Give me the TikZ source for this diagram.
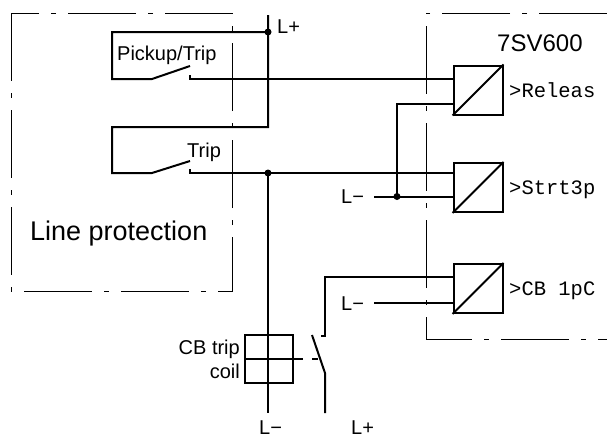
\documentclass[tikz,border=0pt]{standalone}
\usepackage{fontspec}
\setmainfont{Liberation Sans}
\setmonofont{Liberation Mono}
\begin{document}
\begin{tikzpicture}[x=1pt,y=-1pt,
  wire/.style={line width=2pt},
  frame/.style={line width=1pt, dash pattern=on 68pt off 12pt on 5pt off 12pt},
  relay/.style={draw, line width=2pt, minimum width=49pt, minimum height=49pt, inner sep=0pt},
  coilbox/.style={draw, line width=2pt, minimum width=48pt, minimum height=48pt, inner sep=0pt},
  lbl/.style={font=\fontsize{20}{22}\selectfont, inner sep=0pt},
  llbl/.style={font=\fontsize{20}{22}\selectfont, inner sep=0pt, anchor=base west},
  sig/.style={font=\ttfamily\fontsize{20.5}{22}\selectfont, inner sep=0pt, anchor=base west},
  dot/.style={circle, fill, inner sep=0pt, minimum size=7pt}]
\useasboundingbox (0,0) rectangle (607,439);

% frames
\draw[frame] (11,13) rectangle (232,291);
\draw[frame] (607,13) -- (426,13) -- (426,339) -- (607,339);

% relays
\node[relay] (rel1) at (478,90) {};
\node[relay] (rel2) at (478,187.5) {};
\node[relay] (rel3) at (478,288.5) {};
\foreach \r in {rel1,rel2,rel3} \draw[wire] (\r.south west) -- (\r.north east);

% coil
\node[coilbox] (coil) at (269,359) {};

% coordinates
\coordinate (lptop) at (268,15);
\coordinate (lpA) at (268,32);
\coordinate (lpB) at (268,127);
\coordinate (jT) at (268,173);
\coordinate (coilbot) at (268,413);
\coordinate (jL) at (397,196.5);
\coordinate (r1a) at (rel1.west |- 0,79);
\coordinate (r1b) at (rel1.west |- 0,104);
\coordinate (r2a) at (rel2.west |- 0,173);
\coordinate (r2b) at (rel2.west |- 0,196.5);
\coordinate (r3a) at (rel3.west |- 0,277);
\coordinate (r3b) at (rel3.west |- 0,303);
\coordinate (lm1) at (374,196.5);
\coordinate (lm2) at (374,303);

% L+ bus and contacts
\draw[wire] (lptop) -- (lpB) -- (112,127) -- (112,173) -- (152,173) -- (190,161);
\draw[wire] (lpA) -- (112,32) -- (112,79) -- (152,79) -- (190,66);
\draw[wire] (190,75) -- (190,79) -- (r1a);
\draw[wire] (190,169) -- (190,173) -- (r2a);
\draw[wire] (r1b) -- (397,104) -- (jL);
\draw[wire] (lm1) -- (r2b);
\draw[wire] (lm2) -- (r3b);
\draw[wire] (jT) -- (coilbot);
\draw[wire] (coil.west) -- (303,359);
\draw[wire] (312,359) -- (318,359);
% aux contact
\draw[wire] (325,413) -- (325,373) -- (312,335);
\draw[wire] (321,336) -- (325,336) -- (325,277) -- (r3a);

\node[dot] (d1) at (lpA) {};
\node[dot] (d2) at (jT) {};
\node[dot] (d3) at (jL) {};

% labels
\node[llbl] (lplus) at (277,33.5) {L+};
\node[llbl] (lmin1) at (341,203.5) {L−};
\node[llbl] (lmin2) at (341,310) {L−};
\node[llbl] (lmin3) at (259,434.5) {L−};
\node[llbl] (lplus2) at (351,434.5) {L+};
\node[lbl, anchor=base west] (pt) at (117,60) {Pickup/Trip};
\node[lbl, anchor=base west] (tr) at (187,157) {Trip};
\node[lbl, anchor=base east] (cbt) at (240,354) {CB trip};
\node[lbl, anchor=base east] (cbc) at (240,378) {coil};
\node[inner sep=0pt, anchor=base west, font=\fontsize{27}{30}\selectfont] (lp) at (30,240) {Line protection};
\node[inner sep=0pt, anchor=base west, font=\fontsize{24}{26}\selectfont] (dev) at (497,51) {7SV600};
\node[sig] (s1) at (509,97) {>Releas};
\node[sig] (s2) at (509,194.5) {>Strt3p};
\node[sig] (s3) at (509,295.5) {>CB 1pC};
\end{tikzpicture}
\end{document}
